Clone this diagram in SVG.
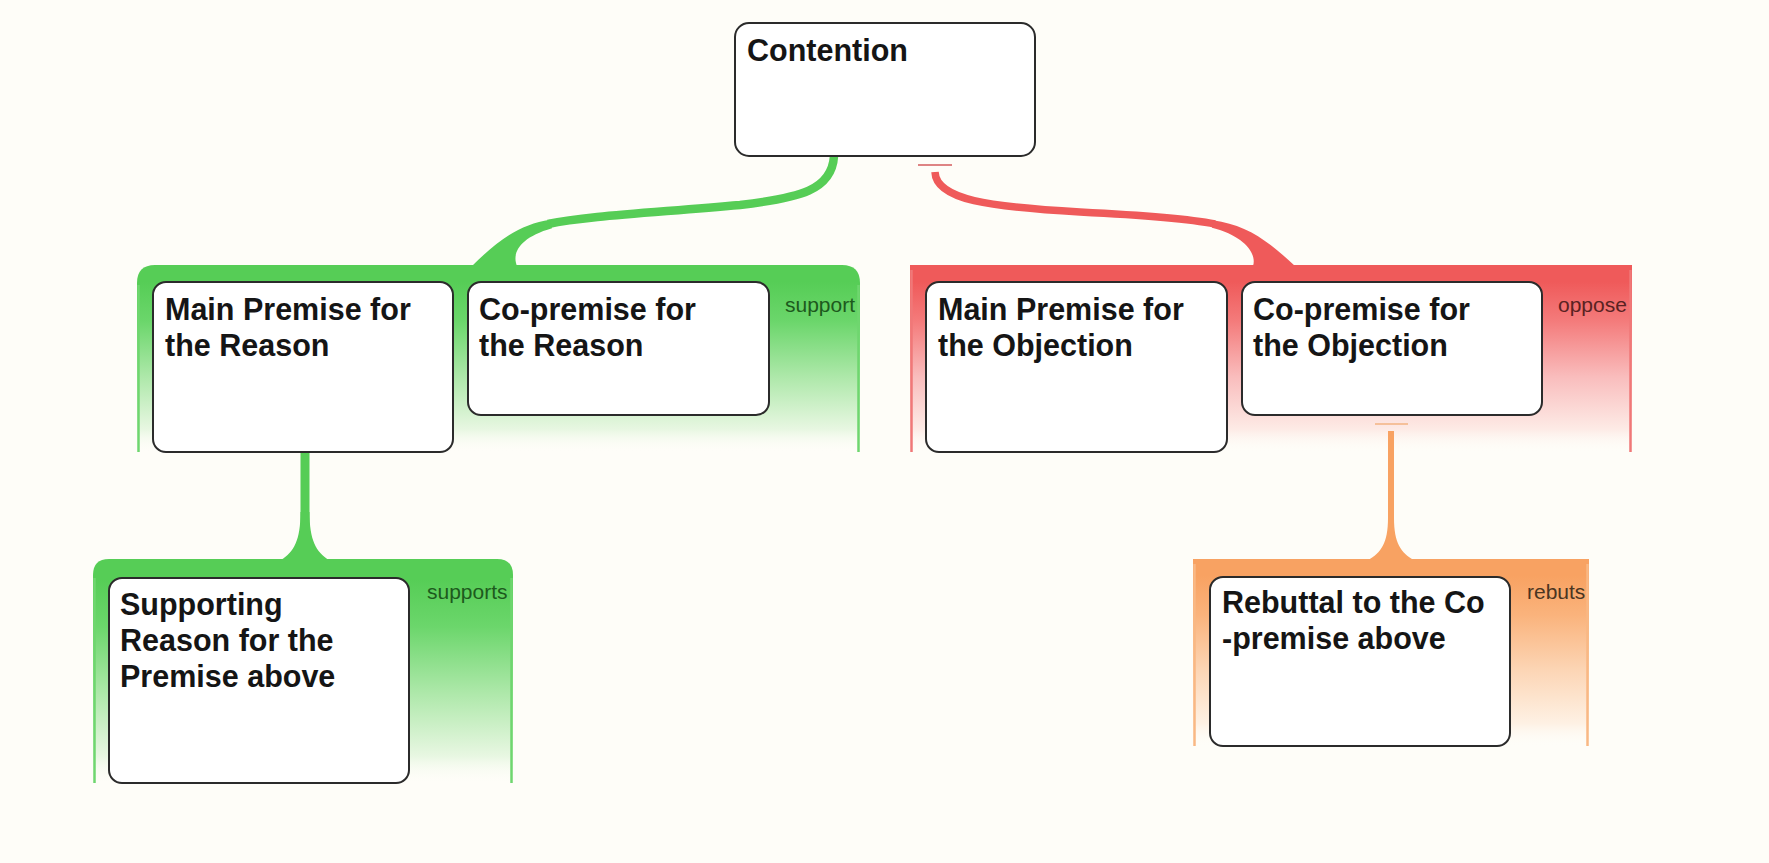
<svg xmlns="http://www.w3.org/2000/svg" width="1769" height="863" viewBox="0 0 1769 863">
  <style>
    .box { fill: #ffffff; stroke: #2b2b2b; stroke-width: 2; }
    .t { font-family: "Liberation Sans", Arial, sans-serif; font-weight: bold; font-size: 30.5px; fill: #151515; }
    .lbl { font-family: "Liberation Sans", Arial, sans-serif; font-size: 21px; }
    .gedge { fill: none; stroke: #6fd66f; stroke-width: 2.5; }
    .redge { fill: none; stroke: #f07878; stroke-width: 2.5; }
    .oedge { fill: none; stroke: #f9b884; stroke-width: 2.5; }
  </style>
  <defs>
    <linearGradient id="gGreen" x1="0" y1="0" x2="0" y2="1">
      <stop offset="0" stop-color="#56cd56"/>
      <stop offset="0.09" stop-color="#56cd56"/>
      <stop offset="0.3" stop-color="#6bd66b"/>
      <stop offset="0.6" stop-color="#aee8aa"/>
      <stop offset="0.88" stop-color="#e8f7e2"/>
      <stop offset="1" stop-color="#fefdf8" stop-opacity="0"/>
    </linearGradient>
    <linearGradient id="gRed" x1="0" y1="0" x2="0" y2="1">
      <stop offset="0" stop-color="#ef5a5a"/>
      <stop offset="0.09" stop-color="#ef5a5a"/>
      <stop offset="0.3" stop-color="#f47b7b"/>
      <stop offset="0.6" stop-color="#f9bdbd"/>
      <stop offset="0.88" stop-color="#fdebe6"/>
      <stop offset="1" stop-color="#fefdf8" stop-opacity="0"/>
    </linearGradient>
    <linearGradient id="gOrange" x1="0" y1="0" x2="0" y2="1">
      <stop offset="0" stop-color="#f8a262"/>
      <stop offset="0.09" stop-color="#f8a262"/>
      <stop offset="0.3" stop-color="#fab37c"/>
      <stop offset="0.6" stop-color="#fcd6b6"/>
      <stop offset="0.88" stop-color="#fef1e4"/>
      <stop offset="1" stop-color="#fefdf8" stop-opacity="0"/>
    </linearGradient>
  </defs>

  <rect x="0" y="0" width="1769" height="863" fill="#fefdf8"/>

  <g id="clusters">
    <g id="cluster-support">
      <path d="M 137 452 V 283 Q 137 265 155 265 H 842 Q 860 265 860 283 V 452 Z" fill="url(#gGreen)"/>
      <path class="gedge" d="M 138.5 452 V 285 M 858.5 452 V 285"/>
      <text class="lbl" x="785" y="312" fill="#1d5a1d">support</text>
    </g>
    <g id="cluster-oppose">
      <path d="M 910 452 V 265 H 1632 V 452 Z" fill="url(#gRed)"/>
      <path class="redge" d="M 911.5 452 V 270 M 1630.5 452 V 270"/>
      <text class="lbl" x="1558" y="312" fill="#5a2222">oppose</text>
    </g>
    <g id="cluster-supports">
      <path d="M 93 783 V 575 Q 93 559 109 559 H 497 Q 513 559 513 575 V 783 Z" fill="url(#gGreen)"/>
      <path class="gedge" d="M 94.5 783 V 578 M 511.5 783 V 578"/>
      <text class="lbl" x="427" y="599" fill="#1d5a1d">supports</text>
    </g>
    <g id="cluster-rebuts">
      <path d="M 1193 746 V 559 H 1589 V 746 Z" fill="url(#gOrange)"/>
      <path class="oedge" d="M 1194.5 746 V 564 M 1587.5 746 V 564"/>
      <text class="lbl" x="1527" y="599" fill="#4a3522">rebuts</text>
    </g>
  </g>

  <g id="connectors">
    <!-- Contention to support cluster -->
    <path d="M 834 156 C 832 190, 800 198, 740 205 C 650 213, 585 216, 548 224" fill="none" stroke="#56cd56" stroke-width="8.5"/>
    <path d="M 550 219.8 C 522 224, 500 238, 472 266 L 517 266 C 512 254, 518 238, 552 228.2 Z" fill="#56cd56"/>
    <!-- Contention to oppose cluster -->
    <line x1="918" y1="165" x2="952" y2="165" stroke="#de8484" stroke-width="2"/>
    <path d="M 935 172 C 936 200, 990 207, 1080 212 C 1140 215, 1185 218, 1215 224" fill="none" stroke="#ef5a5a" stroke-width="7.5"/>
    <path d="M 1213 220.3 C 1245 225, 1265 238, 1295 266 L 1253 266 C 1257 254, 1245 236, 1212 227.7 Z" fill="#ef5a5a"/>
    <!-- Main premise (reason) to supporting cluster -->
    <line x1="305" y1="452" x2="305" y2="530" stroke="#56cd56" stroke-width="9"/>
    <path d="M 300.5 512 C 300.5 540, 294 552, 281 560 L 329 560 C 316 552, 309.5 540, 309.5 512 Z" fill="#56cd56"/>
    <!-- Co-premise (objection) to rebuts cluster -->
    <line x1="1375" y1="424" x2="1408" y2="424" stroke="#f5c09a" stroke-width="2"/>
    <line x1="1391" y1="431" x2="1391" y2="535" stroke="#f8a262" stroke-width="6"/>
    <path d="M 1388 518 C 1388 543, 1381 553, 1368 560 L 1414 560 C 1401 553, 1394 543, 1394 518 Z" fill="#f8a262"/>
  </g>

  <g id="contention">
    <rect class="box" x="735" y="23" width="300" height="133" rx="14"/>
    <text class="t" x="747" y="61">Contention</text>
  </g>
  <g id="main-premise-reason">
    <rect class="box" x="153" y="282" width="300" height="170" rx="13"/>
    <text class="t" x="165" y="320">Main Premise for</text>
    <text class="t" x="165" y="356">the Reason</text>
  </g>
  <g id="co-premise-reason">
    <rect class="box" x="468" y="282" width="301" height="133" rx="13"/>
    <text class="t" x="479" y="320">Co-premise for</text>
    <text class="t" x="479" y="356">the Reason</text>
  </g>
  <g id="main-premise-objection">
    <rect class="box" x="926" y="282" width="301" height="170" rx="13"/>
    <text class="t" x="938" y="320">Main Premise for</text>
    <text class="t" x="938" y="356">the Objection</text>
  </g>
  <g id="co-premise-objection">
    <rect class="box" x="1242" y="282" width="300" height="133" rx="13"/>
    <text class="t" x="1253" y="320">Co-premise for</text>
    <text class="t" x="1253" y="356">the Objection</text>
  </g>
  <g id="supporting-reason">
    <rect class="box" x="109" y="578" width="300" height="205" rx="13"/>
    <text class="t" x="120" y="615">Supporting</text>
    <text class="t" x="120" y="651">Reason for the</text>
    <text class="t" x="120" y="687">Premise above</text>
  </g>
  <g id="rebuttal">
    <rect class="box" x="1210" y="577" width="300" height="169" rx="13"/>
    <text class="t" x="1222" y="613">Rebuttal to the Co</text>
    <text class="t" x="1222" y="649">-premise above</text>
  </g>
</svg>
